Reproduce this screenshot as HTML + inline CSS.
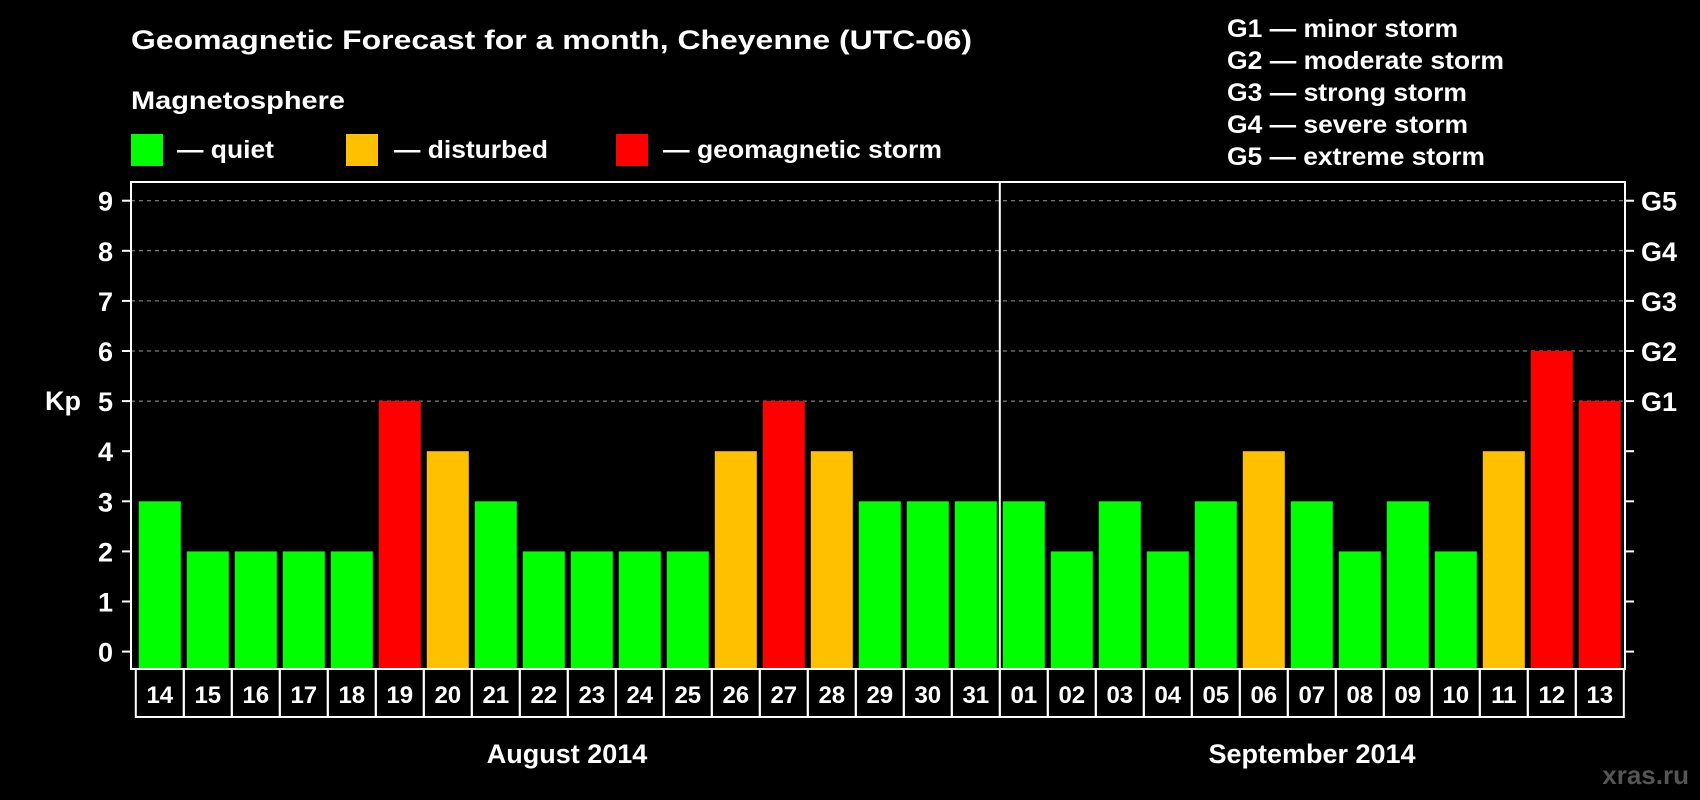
<!DOCTYPE html>
<html><head><meta charset="utf-8"><style>
html,body{margin:0;padding:0;background:#000;}
svg{display:block;font-family:"Liberation Sans",Arial,sans-serif;font-weight:bold;}
</style></head><body>
<svg id="chart" width="1700" height="800" viewBox="0 0 1700 800" xmlns="http://www.w3.org/2000/svg">
<rect x="0" y="0" width="1700" height="800" fill="#000"/>
<text x="131" y="49" font-size="27" fill="#fff" textLength="841" lengthAdjust="spacingAndGlyphs">Geomagnetic Forecast for a month, Cheyenne (UTC-06)</text>
<text x="131" y="109" font-size="25" fill="#fff" textLength="214" lengthAdjust="spacingAndGlyphs">Magnetosphere</text>
<g>
<rect x="131" y="134" width="32" height="32" fill="#00ff00"/>
<text x="177" y="158" font-size="25" fill="#fff" textLength="97" lengthAdjust="spacingAndGlyphs">— quiet</text></g>
<g>
<rect x="346" y="134" width="32" height="32" fill="#ffc000"/>
<text x="394" y="158" font-size="25" fill="#fff" textLength="154" lengthAdjust="spacingAndGlyphs">— disturbed</text></g>
<g>
<rect x="616" y="134" width="32" height="32" fill="#ff0000"/>
<text x="663" y="158" font-size="25" fill="#fff" textLength="279" lengthAdjust="spacingAndGlyphs">— geomagnetic storm</text></g>
<g font-size="25" fill="#fff">
<text x="1227" y="37" textLength="231" lengthAdjust="spacingAndGlyphs">G1 — minor storm</text>
<text x="1227" y="69" textLength="277" lengthAdjust="spacingAndGlyphs">G2 — moderate storm</text>
<text x="1227" y="101" textLength="240" lengthAdjust="spacingAndGlyphs">G3 — strong storm</text>
<text x="1227" y="133" textLength="241" lengthAdjust="spacingAndGlyphs">G4 — severe storm</text>
<text x="1227" y="165" textLength="258" lengthAdjust="spacingAndGlyphs">G5 — extreme storm</text>
</g>
<text x="63" y="410" font-size="27" fill="#fff" text-anchor="middle">Kp</text>
<g id="grid"></g><g id="bars"></g><g id="axes"></g><g id="xlabels"></g>
<text x="567" y="763" font-size="27" fill="#fff" text-anchor="middle">August 2014</text>
<text x="1312" y="763" font-size="27" fill="#fff" text-anchor="middle">September 2014</text>
<text x="1689" y="784" font-size="26" fill="#555" text-anchor="end">xras.ru</text>
</svg>
<script>
const days = ["14","15","16","17","18","19","20","21","22","23","24","25","26","27","28","29","30","31","01","02","03","04","05","06","07","08","09","10","11","12","13"];
const kpValues = [3,2,2,2,2,5,4,3,2,2,2,2,4,5,4,3,3,3,3,2,3,2,3,4,3,2,3,2,4,6,5];
const yTicks = [0,1,2,3,4,5,6,7,8,9];
const gLabels = ["","","","","","G1","G2","G3","G4","G5"];
const monthBreak = 18;
const NS="http://www.w3.org/2000/svg";
const plotL=131, plotR=1625, plotT=182, plotB=669, slot0=135.8, pitch=48;
function yScale(v){return 651.6 - v*50.1;}
function xSlot(i){return slot0 + i*pitch;}
function mk(tag,attrs,parent){const e=document.createElementNS(NS,tag);for(const k in attrs)e.setAttribute(k,attrs[k]);parent.appendChild(e);return e;}
function colorFor(v){return v>=5?"#ff0000":(v>=4?"#ffc000":"#00ff00");}
const grid=document.getElementById('grid'),bars=document.getElementById('bars'),axes=document.getElementById('axes'),xl=document.getElementById('xlabels');
yTicks.forEach((t,i)=>{
  const y=yScale(t);
  if(t>=5){const l=mk('line',{x1:plotL,x2:plotR,y1:y,y2:y,stroke:'#999','stroke-width':1,'stroke-dasharray':'4 4'},grid);
    
    }
  const tl=mk('line',{x1:plotL-9,x2:plotL,y1:y,y2:y,stroke:'#fff','stroke-width':2},axes);
  
  
  const tr=mk('line',{x1:plotR,x2:plotR+9,y1:y,y2:y,stroke:'#fff','stroke-width':2},axes);
  
  
  const lab=mk('text',{x:plotL-18,y:y+10,'font-size':27,fill:'#fff','text-anchor':'end'},axes);
  lab.textContent=t;
  
  
  if(gLabels[i]){const g=mk('text',{x:plotR+16,y:y+10,'font-size':27,fill:'#fff'},axes);
    g.textContent=gLabels[i];
    
    }
});
kpValues.forEach((v,i)=>{
  const x=xSlot(i)+3, y=yScale(v);
  const r=mk('rect',{x:x,y:y,width:42,height:plotB-y,fill:colorFor(v)},bars);
  
  
  const b=mk('rect',{x:xSlot(i),y:plotB,width:pitch,height:48,fill:'none',stroke:'#fff','stroke-width':2},xl);
  
  
  const t=mk('text',{x:xSlot(i)+pitch/2,y:plotB+34,'font-size':24,fill:'#fff','text-anchor':'middle'},xl);
  t.textContent=days[i];
  
  
});
const frame=mk('rect',{x:plotL,y:plotT,width:plotR-plotL,height:plotB-plotT,fill:'none',stroke:'#fff','stroke-width':2},axes);


const dv=mk('line',{x1:xSlot(monthBreak),x2:xSlot(monthBreak),y1:plotT,y2:plotB,stroke:'#fff','stroke-width':2},axes);


</script>
</body></html>
